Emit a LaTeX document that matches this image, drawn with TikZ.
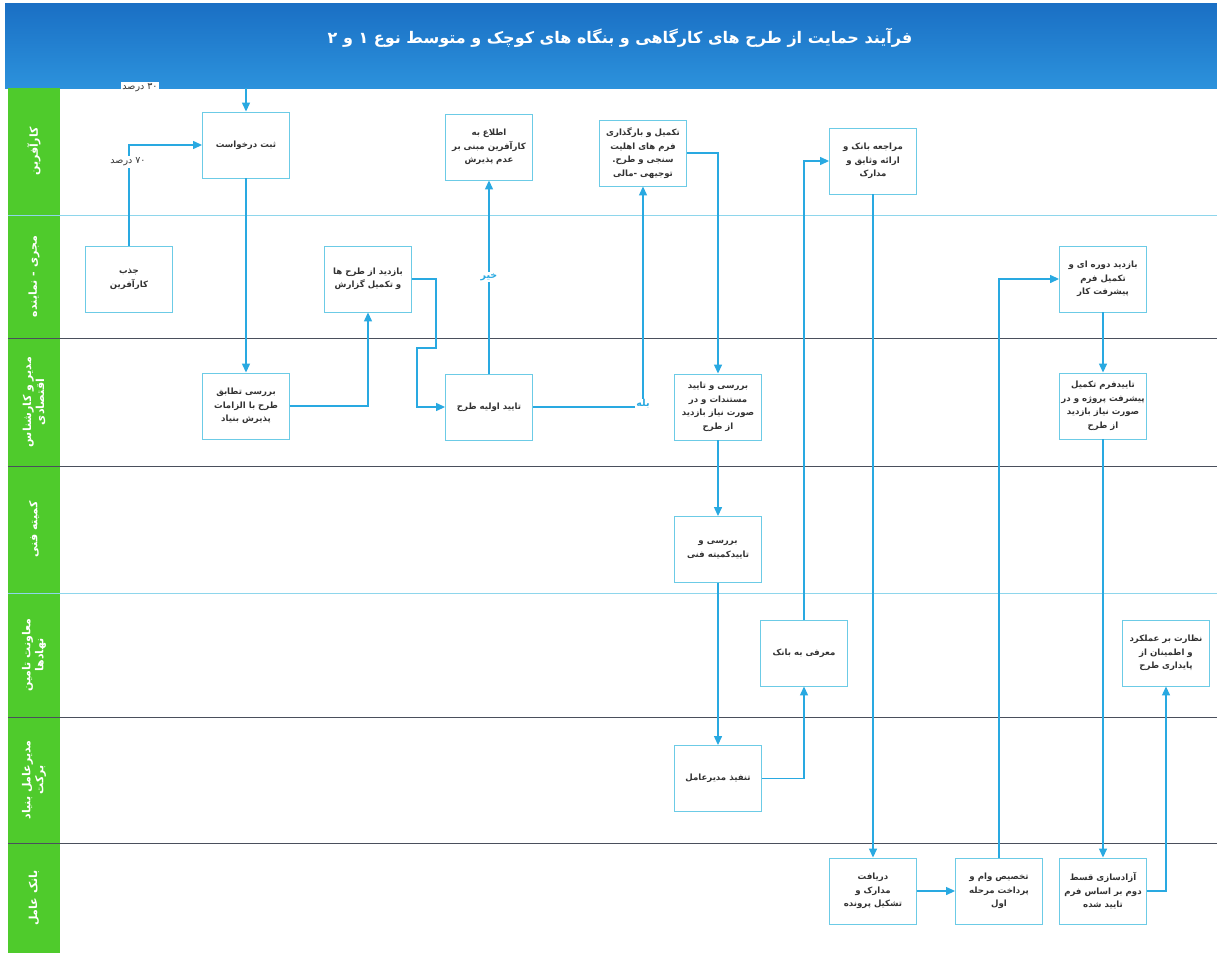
\documentclass[tikz,border=0pt]{standalone}
\usepackage{fontspec}
\newfontfamily\arabicfont[Script=Arabic]{DejaVu Sans}
\TeXXeTstate=1
\usetikzlibrary{arrows.meta}
\definecolor{hdrtop}{HTML}{1A6FC4}
\definecolor{hdrbot}{HTML}{2C92DC}
\definecolor{lanegreen}{HTML}{4FCB2C}
\definecolor{conn}{HTML}{29A9E1}
\definecolor{boxline}{HTML}{6CCBE6}
\definecolor{lightsep}{HTML}{8ED6EC}
\definecolor{darksep}{HTML}{4A4F5C}
\newcommand\pfa[1]{{\arabicfont\beginR #1\endR}}
\tikzset{
 procbox/.style={draw=boxline, line width=0.9pt, fill=white, minimum width=87, minimum height=66, inner sep=1pt, align=center, font=\arabicfont\bfseries\fontsize{8.6}{13.5}\selectfont, text=black!80},
 flow/.style={draw=conn, line width=1.3pt, -{Triangle[length=9pt,width=8pt]}},
 flowlbl/.style={fill=white, inner sep=1pt, text=conn, font=\arabicfont\bfseries\fontsize{9.5}{10}\selectfont},
 pctlbl/.style={fill=white, inner sep=1.5pt, text=black!80, font=\arabicfont\fontsize{9.5}{10}\selectfont},
 lanelbl/.style={rotate=90, text=white, align=center, font=\arabicfont\bfseries\fontsize{11}{13}\selectfont},
}
\begin{document}
\begin{tikzpicture}[x=1pt,y=-1pt]
\useasboundingbox (0,0) rectangle (1217,953);
\fill[white] (0,0) rectangle (1217,953);
% header
\shade[top color=hdrtop, bottom color=hdrbot] (5,3) rectangle (1217,88);
\node[text=white, font=\arabicfont\bfseries\fontsize{16}{18}\selectfont] (title) at (620,38) {\pfa{فرآیند حمایت از طرح های کارگاهی و بنگاه های کوچک و متوسط نوع ۱ و ۲}};
% green column
\fill[lanegreen] (8,88) rectangle (60,953);
% lane separators
\foreach \yy in {215,593} \draw[lightsep, line width=1pt] (8,\yy) -- (1217,\yy);
\foreach \yy in {338,466,717,843} \draw[darksep, line width=0.8pt] (8,\yy) -- (1217,\yy);
% lane labels
\node[lanelbl] (L1) at (34,151.5) {\pfa{کارآفرین}};
\node[lanelbl] (L2) at (34,276.5) {\pfa{مجری - نماینده}};
\node[lanelbl] (L3) at (34,402) {\pfa{مدیر و کارشناس}\\\pfa{اقتصادی}};
\node[lanelbl] (L4) at (34,529.5) {\pfa{کمیته فنی}};
\node[lanelbl] (L5) at (34,655) {\pfa{معاونت تامین}\\\pfa{نهادها}};
\node[lanelbl] (L6) at (34,780) {\pfa{مدیرعامل بنیاد}\\\pfa{برکت}};
\node[lanelbl] (L7) at (34,898) {\pfa{بانک عامل}};
% boxes
\node[procbox] (thabt) at (246,145) {\pfa{ثبت درخواست}};
\node[procbox] (etela) at (489,147) {\pfa{اطلاع به}\\\pfa{کارآفرین مبنی بر}\\\pfa{عدم پذیرش}};
\node[procbox] (takmil) at (643,153) {\pfa{تکمیل و بارگذاری}\\\pfa{فرم های اهلیت}\\\pfa{سنجی و طرح.}\\\pfa{توجیهی -مالی}};
\node[procbox] (moraje) at (873,161) {\pfa{مراجعه بانک و}\\\pfa{ارائه وثایق و}\\\pfa{مدارک}};
\node[procbox] (jazb) at (129,279) {\pfa{جذب}\\\pfa{کارآفرین}};
\node[procbox] (bazdid1) at (368,279) {\pfa{بازدید از طرح ها}\\\pfa{و تکمیل گزارش}};
\node[procbox] (bazdid2) at (1103,279) {\pfa{بازدید دوره ای و}\\\pfa{تکمیل فرم}\\\pfa{پیشرفت کار}};
\node[procbox] (barrasi1) at (246,406) {\pfa{بررسی تطابق}\\\pfa{طرح با الزامات}\\\pfa{پذیرش بنیاد}};
\node[procbox] (taeed1) at (489,407) {\pfa{تایید اولیه طرح}};
\node[procbox] (barrasi2) at (718,407) {\pfa{بررسی و تایید}\\\pfa{مستندات و در}\\\pfa{صورت نیاز بازدید}\\\pfa{از طرح}};
\node[procbox] (taeedform) at (1103,406) {\pfa{تاییدفرم تکمیل}\\\pfa{پیشرفت پروژه و در}\\\pfa{صورت نیاز بازدید}\\\pfa{از طرح}};
\node[procbox] (komite) at (718,549.5) {\pfa{بررسی و}\\\pfa{تاییدکمیته فنی}};
\node[procbox] (moarefi) at (804,653) {\pfa{معرفی به بانک}};
\node[procbox] (nezarat) at (1166,653) {\pfa{نظارت بر عملکرد}\\\pfa{و اطمینان از}\\\pfa{پایداری طرح}};
\node[procbox] (tanfiz) at (718,778.5) {\pfa{تنفیذ مدیرعامل}};
\node[procbox] (daryaft) at (873,891) {\pfa{دریافت}\\\pfa{مدارک و}\\\pfa{تشکیل پرونده}};
\node[procbox] (takhsis) at (999,891) {\pfa{تخصیص وام و}\\\pfa{پرداخت مرحله}\\\pfa{اول}};
\node[procbox] (azad) at (1103,891) {\pfa{آزادسازی قسط}\\\pfa{دوم بر اساس فرم}\\\pfa{تایید شده}};
% helper coordinates
\coordinate (hdr) at (246,88);
\coordinate (s1) at (436,348);
\coordinate (s2) at (417,348);
% connectors
\draw[flow] (hdr) -- (thabt.north);
\node[pctlbl] (p30) at (140,88) {\pfa{۳۰ درصد}};
\draw[flow] (jazb.north) |- (thabt.west);
\node[pctlbl] (p70) at (128,162) {\pfa{۷۰ درصد}};
\draw[flow] (thabt.south) -- (barrasi1.north);
\draw[flow] (barrasi1.east) -| (bazdid1.south);
\draw[flow] (bazdid1.east) -| (s1) -- (s2) |- (taeed1.west);
\draw[flow] (taeed1.north) -- node[flowlbl] (no) {\pfa{خیر}} (etela.south);
\draw[flow] (taeed1.east) -| (takmil.south);
\node[flowlbl] (yes) at (643,404) {\pfa{بله}};
\draw[flow] (takmil.east) -| (barrasi2.north);
\draw[flow] (barrasi2.south) -- (komite.north);
\draw[flow] (komite.south) -- (tanfiz.north);
\draw[flow] (tanfiz.east) -| (moarefi.south);
\draw[flow] (moarefi.north) |- (moraje.west);
\draw[flow] (moraje.south) -- (daryaft.north);
\draw[flow] (daryaft.east) -- (takhsis.west);
\draw[flow] (takhsis.north) |- (bazdid2.west);
\draw[flow] (bazdid2.south) -- (taeedform.north);
\draw[flow] (taeedform.south) -- (azad.north);
\draw[flow] (azad.east) -| (nezarat.south);
\end{tikzpicture}
\end{document}
